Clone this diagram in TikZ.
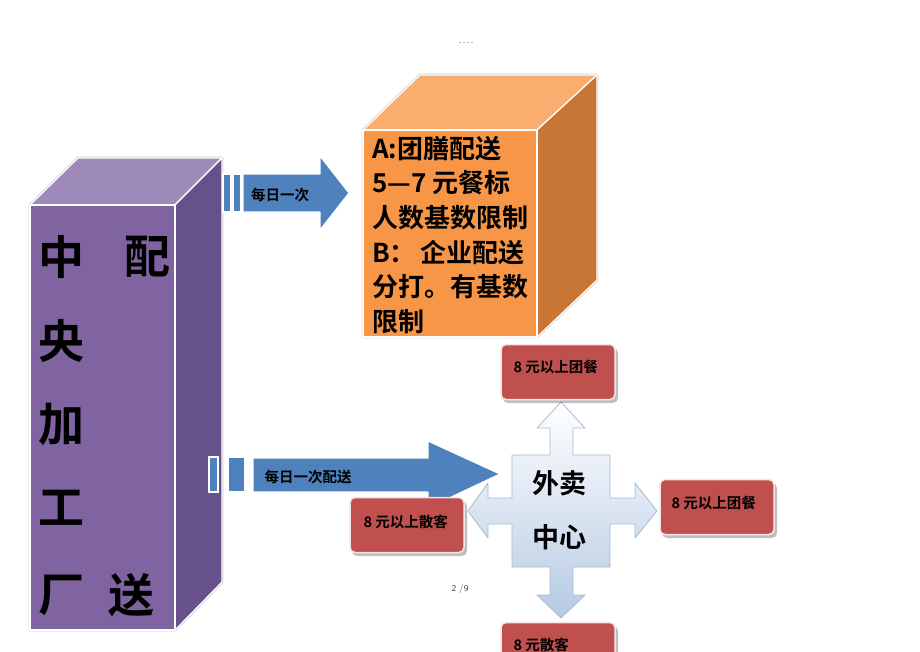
\documentclass[tikz,border=0pt]{standalone}
\usepackage{fontspec}
\newfontfamily\cjk{Noto Sans CJK SC}[BoldFont={Noto Sans CJK SC Bold}]
\definecolor{purpfront}{HTML}{8064A2}
\definecolor{purptop}{HTML}{9D89BA}
\definecolor{purpside}{HTML}{66518A}
\definecolor{orfront}{HTML}{F79646}
\definecolor{ortop}{HTML}{F9AE70}
\definecolor{orside}{HTML}{C87635}
\definecolor{arrblue}{HTML}{4F81BD}
\definecolor{boxred}{HTML}{C0504D}
\definecolor{crossblue}{HTML}{B6CAE3}
\definecolor{crossline}{HTML}{A7BAD3}
\tikzset{
  face/.style={draw=white,line width=1.2pt,line join=round},
  halo/.style={draw=black!20,line width=2.6pt,line join=round},
  bluebar/.style={fill=arrblue,draw=white,line width=1.2pt},
  redbox/.style={fill=boxred,draw=white!85!boxred,line width=1.5pt,rounded corners=5pt,
    minimum width=114pt,minimum height=55pt,inner sep=0pt},
  redtext/.style={anchor=west,font=\cjk\bfseries\fontsize{14.5}{16}\selectfont},
  redshadow/.style={fill=black,opacity=.25,rounded corners=5pt},
  bigchar/.style={font=\cjk\bfseries\fontsize{46}{46}\selectfont,inner sep=0pt}
}
\begin{document}
\begin{tikzpicture}[x=1pt,y=-1pt]
  \useasboundingbox (0,0) rectangle (920,651);
  \clip (0,0) rectangle (920,651);
  % header mark and page number
  \draw[purpfront!50,dash pattern=on 2pt off 2pt,line width=.6pt](459,42)--(474,42);
  \node[font=\sffamily\fontsize{9}{9}\selectfont,text=black!75] (page) at (460,589) {2 /9};
  % purple block
  \draw[halo](30,205)--(78,158)--(222,158)--(222,582)--(175,630)--(30,630)--cycle;
  \fill[purptop,face](30,205)--(78,158)--(222,158)--(175,205)--cycle;
  \fill[purpside,face](175,205)--(222,158)--(222,582)--(175,630)--cycle;
  \fill[purpfront,face](30,205)rectangle(175,630);
  \node[bigchar] (zhong) at (61,257) {中};
  \node[bigchar] (pei) at (147,257) {配};
  \node[bigchar] (yang) at (61,341) {央};
  \node[bigchar] (jia) at (61,424) {加};
  \node[bigchar] (gong) at (61,508) {工};
  \node[bigchar] (chang) at (61,595) {厂};
  \node[bigchar] (song) at (131,595) {送};
  % orange block
  \draw[halo](363,130)--(420,75)--(597,75)--(597,280)--(537,337)--(363,337)--cycle;
  \fill[ortop,face](363,130)--(420,75)--(597,75)--(537,130)--cycle;
  \fill[orside,face](537,130)--(597,75)--(597,280)--(537,337)--cycle;
  \fill[orfront,face](363,130)rectangle(537,337);
  \node[anchor=north west,align=left,inner sep=0pt,
    font=\cjk\bfseries\fontsize{26}{34.6}\selectfont] (plan) at (372,136)
    {A:团膳配送\\5—7 元餐标\\人数基数限制\\B：\,企业配送\\分打。有基数\\限制};
  % upper arrow
  \draw[bluebar](223,174)rectangle(231,212);
  \draw[bluebar](233,174)rectangle(241,212);
  \fill[arrblue,face](243,174)--(320,174)--(320,156)--(349,193)--(320,230)--(320,212)--(243,212)--cycle;
  \node[font=\cjk\bfseries\fontsize{14.5}{14}\selectfont] (daily) at (280,195) {每日一次};
  % lower arrow
  \draw[bluebar](209,457)rectangle(218,492);
  \draw[bluebar](228,457)rectangle(245,492);
  \fill[arrblue,face](253,458)--(428,458)--(428,441)--(500,474)--(428,508)--(428,492)--(253,492)--cycle;
  \node[anchor=west,font=\cjk\bfseries\fontsize{14.5}{14}\selectfont] (dailysend) at (261,477) {每日一次配送};
  % four way arrow
  \shade[top color=white,bottom color=crossblue,draw=crossline,line width=.8pt,line join=round]
    (561,402)--(585,428)--(573,428)--(573,455)--(610,455)--(610,498)--(635,498)--(635,483)
    --(657,511)--(635,538)--(635,524)--(610,524)--(610,567)--(573,567)--(573,595)--(585,595)
    --(561,618)--(537,595)--(550,595)--(550,567)--(512,567)--(512,524)--(488,524)--(488,538)
    --(468,511)--(488,483)--(488,498)--(512,498)--(512,455)--(550,455)--(550,428)--(537,428)--cycle;
  \node[align=center,font=\cjk\bfseries\fontsize{27}{54}\selectfont] (hub) at (559,510) {外卖\\中心};
  % red boxes
  \fill[redshadow](503,348)rectangle(618,403);
  \fill[redshadow](662,483)rectangle(777,538);
  \fill[redshadow](352,501)rectangle(467,556);
  \fill[redshadow](503,626)rectangle(618,681);
  \node[redbox] (up) at (558,372) {};
  \node[redtext] (uptext) at (510,367) {8 元以上团餐};
  \node[redbox] (right) at (717,507) {};
  \node[redtext] (righttext) at (668,503) {8 元以上团餐};
  \node[redbox] (left) at (407,525) {};
  \node[redtext] (lefttext) at (360,522) {8 元以上散客};
  \node[redbox] (down) at (558,650) {};
  \node[redtext] (downtext) at (510,645) {8 元散客};
\end{tikzpicture}
\end{document}
